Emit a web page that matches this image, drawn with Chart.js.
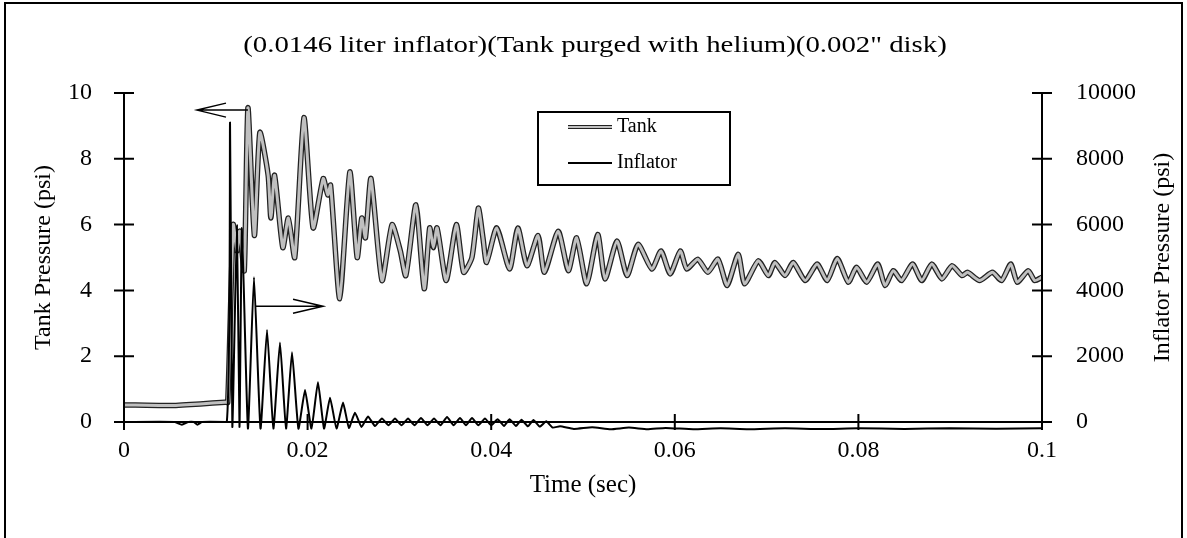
<!DOCTYPE html>
<html>
<head>
<meta charset="utf-8">
<script src="https://cdn.jsdelivr.net/npm/chart.js@4.4.0/dist/chart.umd.min.js"></script>
<style>
    html, body { margin: 0; padding: 0; background: #fff; }
</style>
</head>
<body>
<canvas id="myChart" width="1187" height="538"></canvas>
<script>
// Tank pressure (psi), left axis
var tankTime = [0, 0.0050, 0.0083, 0.0110, 0.0113, 0.0119, 0.0123, 0.0126, 0.0131, 0.0135,
    0.0142, 0.0148, 0.0157, 0.0160, 0.0164, 0.0173, 0.0179, 0.0186, 0.0196, 0.0206,
    0.0217, 0.0222, 0.0225, 0.0235, 0.0246, 0.0254, 0.0259, 0.0263, 0.0269, 0.0281,
    0.0292, 0.0301, 0.0307, 0.0318, 0.0327, 0.0333, 0.0337, 0.0341, 0.0351, 0.0362,
    0.0370, 0.0379, 0.0386, 0.0391, 0.0395, 0.0406, 0.0420, 0.0429, 0.0439, 0.0451,
    0.0458, 0.0473, 0.0484, 0.0493, 0.0504, 0.0516, 0.0524, 0.0537, 0.0548, 0.0560,
    0.0575, 0.0585, 0.0595, 0.0606, 0.0613, 0.0625, 0.0636, 0.0647, 0.0657, 0.0669,
    0.0676, 0.0691, 0.0702, 0.0709, 0.0720, 0.0729, 0.0742, 0.0755, 0.0766, 0.0777,
    0.0789, 0.0798, 0.0809, 0.0821, 0.0829, 0.0838, 0.0847, 0.0859, 0.0869, 0.0880,
    0.0891, 0.0902, 0.0913, 0.0919, 0.0932, 0.0946, 0.0956, 0.0966, 0.0973, 0.0985,
    0.0992, 0.1000];
var tankPsi = [0.52, 0.50, 0.55, 0.60, 0.60, 6.0, 5.2, 5.8, 4.6, 9.55,
    5.67, 8.8, 7.5, 6.2, 7.5, 5.3, 6.2, 5.0, 9.25, 5.9,
    7.4, 6.9, 7.2, 3.75, 7.6, 5.0, 6.2, 5.6, 7.4, 4.3,
    6.0, 5.2, 4.45, 6.6, 4.05, 5.9, 5.3, 5.9, 4.3, 6.0,
    4.55, 5.0, 6.5, 5.6, 4.85, 5.9, 4.65, 5.9, 4.75, 5.67,
    4.55, 5.8, 4.6, 5.6, 4.2, 5.7, 4.35, 5.5, 4.45, 5.4,
    4.65, 5.2, 4.5, 5.2, 4.65, 4.95, 4.55, 4.95, 4.15, 5.1,
    4.2, 4.9, 4.45, 4.85, 4.45, 4.85, 4.3, 4.8, 4.3, 4.97,
    4.25, 4.7, 4.25, 4.8, 4.15, 4.6, 4.3, 4.8, 4.3, 4.8,
    4.35, 4.75, 4.45, 4.55, 4.3, 4.55, 4.3, 4.8, 4.25, 4.6,
    4.3, 4.4];

// Inflator pressure (psi), right axis
var inflTime = [0, 0.0055, 0.0063, 0.0070, 0.0076, 0.0080, 0.0085, 0.0112,
    0.01155, 0.0118, 0.0123, 0.01258, 0.01285, 0.0135, 0.01416, 0.01487,
    0.01558, 0.01627, 0.01699, 0.01765, 0.0183, 0.0190, 0.01972, 0.02042,
    0.02113, 0.02179, 0.02244, 0.02315, 0.02386, 0.0245, 0.02516, 0.02587,
    0.02658, 0.02734, 0.0281, 0.02881, 0.02952, 0.03023, 0.03094, 0.03165,
    0.03235, 0.03306, 0.03377, 0.03448, 0.03519, 0.0359, 0.0366, 0.03725,
    0.03791, 0.0386, 0.03932, 0.0400, 0.0407, 0.0414, 0.0420, 0.0427,
    0.0433, 0.0440, 0.0446, 0.0453, 0.0460, 0.0467, 0.0475, 0.0490,
    0.0510, 0.0530, 0.0550, 0.0570, 0.0590, 0.0620, 0.0650, 0.0680,
    0.0720, 0.0760, 0.0800, 0.0850, 0.0900, 0.0950, 0.1000];
var inflPsi = [0, 0, -80, 0, 0, -80, 0, 0,
    9100, -150, 5970, -150, 5900, -200, 4400, -200,
    2800, -200, 2420, -200, 2120, -200, 970, -200,
    1210, -200, 740, -200, 590, -180, 280, -150,
    170, -120, 110, -100, 110, -100, 110, -100,
    120, -100, 110, -100, 150, -100, 120, -100,
    120, -100, 110, -100, 80, -120, 80, -120,
    70, -130, 60, -140, 20, -170, -130, -210,
    -160, -220, -170, -220, -180, -220, -190, -220,
    -190, -215, -190, -210, -190, -205, -190];

var seriesNames = ['Tank', 'Inflator'];
var xTickLabels = ['0', '0.02', '0.04', '0.06', '0.08', '0.1'];
var leftTickLabels = ['0', '2', '4', '6', '8', '10'];
var rightTickLabels = ['0', '2000', '4000', '6000', '8000', '10000'];

var serif = "'Liberation Serif', 'Times New Roman', serif";

function pts(xs, ys) {
    return xs.map(function (x, i) { return { x: x, y: ys[i] }; });
}

// axes with ticks crossing the line, the arrows, the legend box and the frame
var decorations = {
    id: 'decorations',
    afterDatasetsDraw: function (chart) {
        var c = chart.ctx;
        var xs = chart.scales.x, yl = chart.scales.y, yr = chart.scales.y2;
        var a = chart.chartArea;
        c.save();
        c.strokeStyle = '#000';
        c.fillStyle = '#000';
        c.lineWidth = 2;

        // frame round the whole figure
        c.strokeRect(5, 3, 1177, 560);

        // axis lines
        c.beginPath();
        c.moveTo(a.left, a.top); c.lineTo(a.left, a.bottom);
        c.moveTo(a.left, a.bottom); c.lineTo(a.right, a.bottom);
        c.moveTo(a.right, a.top); c.lineTo(a.right, a.bottom);
        xs.ticks.forEach(function (t) {
            var px = xs.getPixelForValue(t.value);
            c.moveTo(px, a.bottom - 8); c.lineTo(px, a.bottom + 8);
        });
        yl.ticks.forEach(function (t) {
            var py = yl.getPixelForValue(t.value);
            c.moveTo(a.left - 10, py); c.lineTo(a.left + 10, py);
        });
        yr.ticks.forEach(function (t) {
            var py = yr.getPixelForValue(t.value);
            c.moveTo(a.right - 10, py); c.lineTo(a.right + 10, py);
        });
        c.stroke();

        // arrow to the left axis (tank) and to the right axis (inflator)
        c.lineWidth = 1.5;
        var ay = yl.getPixelForValue(9.48);
        var ax0 = xs.getPixelForValue(0.0135), ax1 = xs.getPixelForValue(0.00795);
        c.beginPath();
        c.moveTo(ax0, ay); c.lineTo(ax1, ay);
        c.moveTo(ax1 + 29, ay - 7); c.lineTo(ax1, ay); c.lineTo(ax1 + 29, ay + 7);
        var by = yr.getPixelForValue(3520);
        var bx0 = xs.getPixelForValue(0.01427), bx1 = xs.getPixelForValue(0.02168);
        c.moveTo(bx0, by); c.lineTo(bx1, by);
        c.moveTo(bx1 - 30, by - 7); c.lineTo(bx1, by); c.lineTo(bx1 - 30, by + 7);
        c.stroke();

        // legend
        c.lineWidth = 2;
        c.fillStyle = '#fff';
        c.fillRect(538, 112, 192, 73);
        c.strokeRect(538, 112, 192, 73);
        c.font = '20px ' + serif;
        c.textBaseline = 'middle';
        c.textAlign = 'left';
        var rows = [127, 163];
        seriesNames.forEach(function (name, i) {
            var y = rows[i];
            if (name === 'Tank') {
                c.strokeStyle = '#222'; c.lineWidth = 4;
                c.beginPath(); c.moveTo(568, y); c.lineTo(612, y); c.stroke();
                c.strokeStyle = '#c0c0c0'; c.lineWidth = 2;
                c.beginPath(); c.moveTo(568, y); c.lineTo(612, y); c.stroke();
            } else {
                c.strokeStyle = '#000'; c.lineWidth = 2;
                c.beginPath(); c.moveTo(568, y); c.lineTo(612, y); c.stroke();
            }
            c.fillStyle = '#000';
            c.fillText(name, 617, y);
        });

        // right axis title reads bottom to top like the left one
        c.save();
        c.font = '24px ' + serif;
        c.textAlign = 'center';
        c.textBaseline = 'middle';
        c.translate(1163, (a.top + a.bottom) / 2);
        c.rotate(-Math.PI / 2);
        c.fillText('Inflator Pressure (psi)', 0, 0);
        c.restore();

        // title, a little wide as in the scan
        c.save();
        c.font = '24px ' + serif;
        c.textAlign = 'center';
        c.textBaseline = 'middle';
        c.translate(595, 46);
        c.scale(1.2, 1);
        c.fillText('(0.0146 liter inflator)(Tank purged with helium)(0.002" disk)', 0, 0);
        c.restore();
        c.restore();
    }
};

var ctx = document.getElementById('myChart');
var myChart = new Chart(ctx, {
    type: 'line',
    data: {
        datasets: [
            {
                label: seriesNames[1],
                data: pts(inflTime, inflPsi),
                yAxisID: 'y2',
                borderColor: '#000',
                borderWidth: 2,
                pointRadius: 0,
                tension: 0.15,
                clip: false,
                order: 0
            },
            {
                label: seriesNames[0],
                data: pts(tankTime, tankPsi),
                yAxisID: 'y',
                borderColor: '#c0c0c0',
                borderWidth: 3,
                pointRadius: 0,
                tension: 0.2,
                order: 1
            },
            {
                label: seriesNames[0] + ' edge',
                data: pts(tankTime, tankPsi),
                yAxisID: 'y',
                borderColor: '#222',
                borderWidth: 5.5,
                pointRadius: 0,
                tension: 0.2,
                order: 2
            }
        ]
    },
    options: {
        responsive: false,
        animation: false,
        layout: { padding: { top: 93, left: 0, right: 0, bottom: 0 } },
        plugins: {
            legend: { display: false },
            tooltip: { enabled: false }
        },
        scales: {
            x: {
                type: 'linear',
                min: 0,
                max: 0.1,
                grid: { display: false },
                border: { display: false },
                ticks: {
                    stepSize: 0.02,
                    padding: 6,
                    color: '#000',
                    font: { family: serif, size: 24 },
                    maxRotation: 0,
                    callback: function (v, i) { return xTickLabels[i]; }
                },
                title: {
                    display: true,
                    text: 'Time (sec)',
                    color: '#000',
                    font: { family: serif, size: 25 },
                    padding: { top: 0, bottom: 38 }
                },
                afterFit: function (s) { s.height = 116; }
            },
            y: {
                position: 'left',
                min: 0,
                max: 10,
                grid: { display: false },
                border: { display: false },
                ticks: {
                    stepSize: 2,
                    padding: 24,
                    color: '#000',
                    font: { family: serif, size: 24 },
                    callback: function (v, i) { return leftTickLabels[i]; }
                },
                title: {
                    display: true,
                    text: 'Tank Pressure (psi)',
                    color: '#000',
                    font: { family: serif, size: 24 },
                    padding: { top: 29, bottom: 0 }
                },
                afterFit: function (s) { s.width = 124; }
            },
            y2: {
                position: 'right',
                min: 0,
                max: 10000,
                grid: { display: false },
                border: { display: false },
                ticks: {
                    stepSize: 2000,
                    padding: 26,
                    color: '#000',
                    font: { family: serif, size: 24 },
                    callback: function (v, i) { return rightTickLabels[i]; }
                },
                afterFit: function (s) { s.width = 145; }
            }
        }
    },
    plugins: [decorations]
});
</script>
</body>
</html>
